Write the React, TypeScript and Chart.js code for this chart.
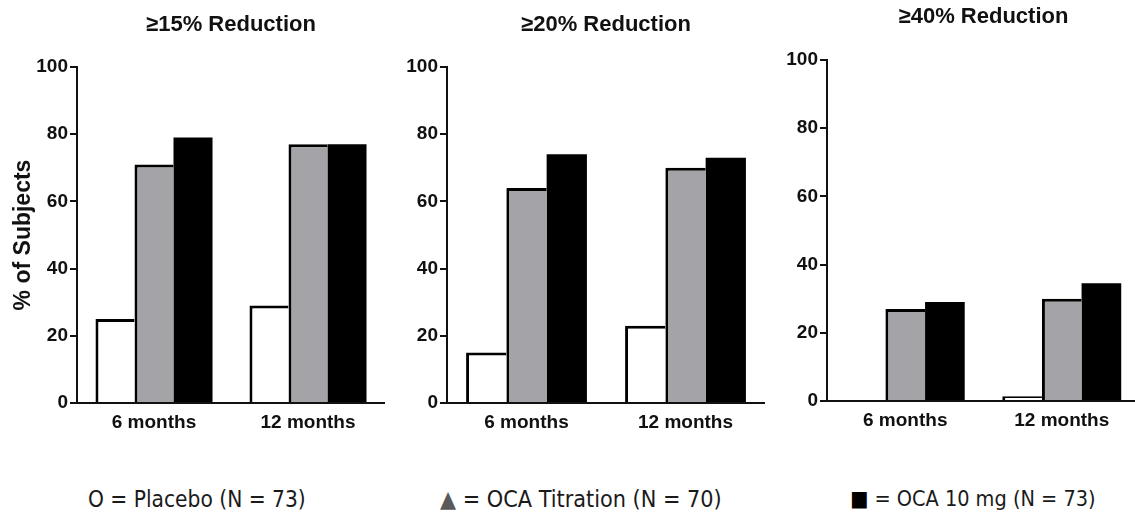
import React, { useEffect, useRef } from 'react';
import { Chart, registerables } from 'chart.js';

Chart.register(...registerables);

// Visit categories shared by every panel
const periods = ['6 months', '12 months'];
const yTicks = [0, 20, 40, 60, 80, 100];

// Panel headings
const panelTitles = ['≥15% Reduction', '≥20% Reduction', '≥40% Reduction'];

// % of subjects reaching each reduction threshold
const placebo15 = [25, 29];
const titration15 = [71, 77];
const oca10mg15 = [79, 77];

const placebo20 = [15, 23];
const titration20 = [64, 70];
const oca10mg20 = [74, 73];

const placebo40 = [0, 1.4];
const titration40 = [27, 30];
const oca10mg40 = [29, 34.5];

const seriesNames = ['Placebo', 'OCA Titration', 'OCA 10 mg'];
const seriesFills = ['#ffffff', '#a4a3a8', '#000000'];
// The solid black series needs no separate outline
const seriesEdges = [3, 3, 0];

const legendSymbols = ['O', '▲', '■'];
const legendSymbolColors = ['#1a1a1a', '#5a5a5a', '#000000'];
const legendTexts = [' = Placebo (N = 73)', ' = OCA Titration (N = 70)', ' = OCA 10 mg (N = 73)'];
const legendSizes = [22.5, 23.2, 21.5];

const INK = '#111111';
const BAR_EDGE = '#000000';
const AXIS_FONT = 'Liberation Sans';

type PanelProps = {
  title: string;
  series: number[][];
  left: number;
  width: number;
  height: number;
  yWidth: number;
  xHeight: number;
  titleTop: number;
  titleBottom: number;
  yTitle?: string;
};

function Panel(props: PanelProps) {
  const ref = useRef<HTMLCanvasElement | null>(null);

  useEffect(() => {
    const canvas = ref.current;
    if (!canvas) return;
    const chart = new Chart(canvas, {
      type: 'bar',
      data: {
        labels: periods,
        datasets: props.series.map((values, i) => ({
          label: seriesNames[i],
          data: values,
          backgroundColor: seriesFills[i],
          borderColor: BAR_EDGE,
          borderWidth: { top: seriesEdges[i], left: seriesEdges[i], right: 0, bottom: 0 },
          borderSkipped: false,
          barPercentage: 1,
          categoryPercentage: 0.76,
        })),
      },
      options: {
        responsive: false,
        animation: false,
        events: [],
        layout: { padding: { left: 0, right: 0, top: 0, bottom: 0 } },
        plugins: {
          legend: { display: false },
          tooltip: { enabled: false },
          title: {
            display: true,
            text: props.title,
            fullSize: false,
            color: INK,
            font: { family: AXIS_FONT, size: 22, weight: 'bold', lineHeight: 1.2 },
            padding: { top: props.titleTop, bottom: props.titleBottom },
          },
        },
        scales: {
          x: {
            grid: { display: false, drawTicks: false, tickLength: 0 },
            border: { display: true, color: INK, width: 2 },
            ticks: {
              color: INK,
              padding: 8,
              maxRotation: 0,
              font: { family: AXIS_FONT, size: 19, weight: 'bold' },
            },
            afterFit: (s: any) => {
              s.height = props.xHeight;
            },
          },
          y: {
            min: 0,
            max: 100,
            afterBuildTicks: (s: any) => {
              s.ticks = yTicks.map((v) => ({ value: v }));
            },
            grid: {
              display: true,
              drawOnChartArea: false,
              drawTicks: true,
              tickLength: 7,
              color: INK,
              lineWidth: 2,
            },
            border: { display: true, color: INK, width: 2 },
            ticks: {
              color: INK,
              padding: 2,
              font: { family: AXIS_FONT, size: 19, weight: 'bold' },
            },
            title: {
              display: !!props.yTitle,
              text: props.yTitle || '',
              color: INK,
              font: { family: AXIS_FONT, size: 23, weight: 'bold', lineHeight: 1.2 },
              padding: { top: 10, bottom: 0 },
            },
            afterFit: (s: any) => {
              s.width = props.yWidth;
            },
          },
        },
      },
    } as any);
    return () => chart.destroy();
  }, []);

  return (
    <canvas
      ref={ref}
      width={props.width}
      height={props.height}
      style={{ position: 'absolute', left: props.left, top: 0, width: props.width, height: props.height }}
    />
  );
}

export default function App() {
  return (
    <div
      style={{
        position: 'absolute',
        left: 0,
        top: 0,
        width: 1135,
        height: 515,
        overflow: 'hidden',
        background: '#ffffff',
      }}
    >
      <Panel
        title={panelTitles[0]}
        series={[placebo15, titration15, oca10mg15]}
        left={0}
        width={385}
        height={440}
        yWidth={77}
        xHeight={37}
        titleTop={11.8}
        titleBottom={28.8}
        yTitle="% of Subjects"
      />
      <Panel
        title={panelTitles[1]}
        series={[placebo20, titration20, oca10mg20]}
        left={380}
        width={385}
        height={440}
        yWidth={67}
        xHeight={37}
        titleTop={11.8}
        titleBottom={28.8}
      />
      <Panel
        title={panelTitles[2]}
        series={[placebo40, titration40, oca10mg40]}
        left={760}
        width={380}
        height={440}
        yWidth={67}
        xHeight={39}
        titleTop={3.8}
        titleBottom={29.8}
      />
      {legendTexts.map((text, i) => (
        <div
          key={i}
          style={{
            position: 'absolute',
            left: [88, 440, 850][i],
            top: 485,
            height: 28,
            lineHeight: '28px',
            whiteSpace: 'nowrap',
            fontFamily: '"DejaVu Sans Condensed", "DejaVu Sans", sans-serif',
            fontSize: legendSizes[i],
            color: '#1a1a1a',
          }}
        >
          <span style={{ color: legendSymbolColors[i] }}>{legendSymbols[i]}</span>
          {text}
        </div>
      ))}
    </div>
  );
}
